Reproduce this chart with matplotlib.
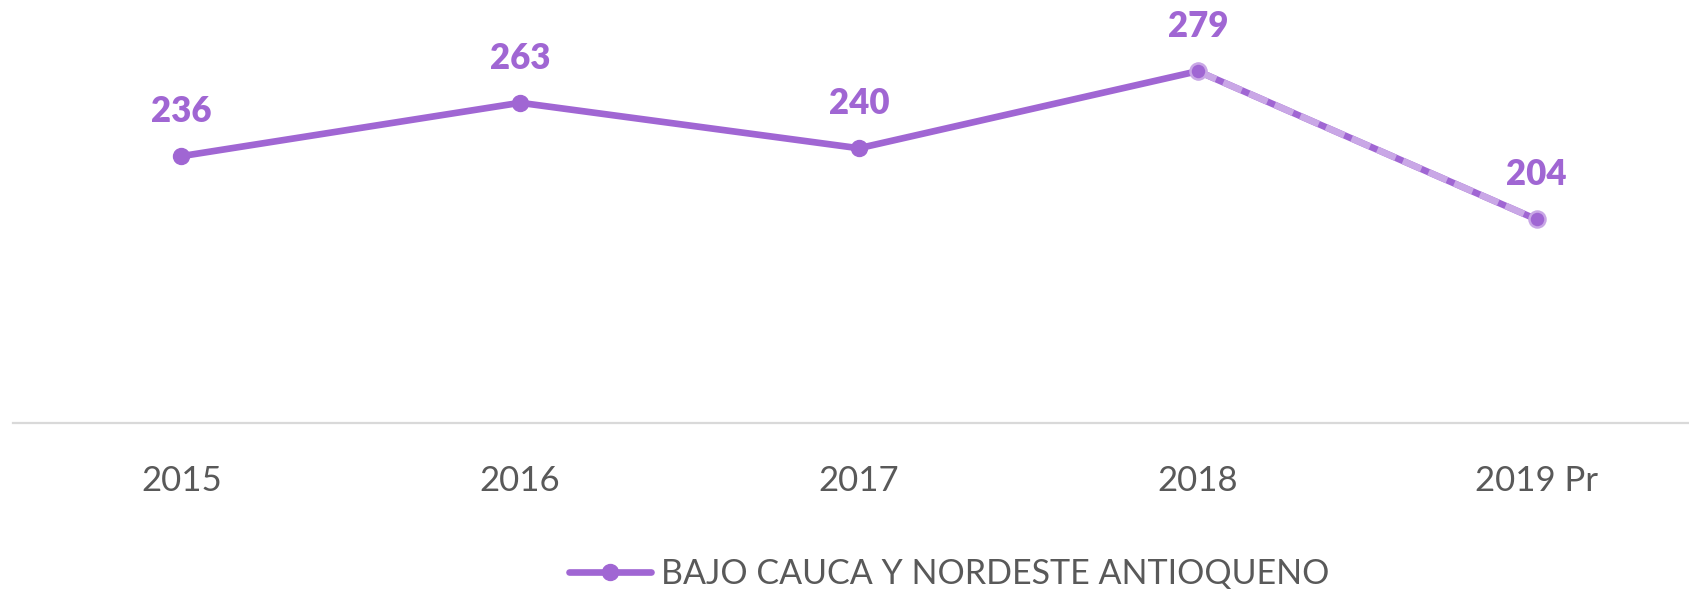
import matplotlib.pyplot as plt

# Data
years = ['2015', '2016', '2017', '2018', '2019 Pr']
values = [236, 263, 240, 279, 204]
series_name = 'BAJO CAUCA Y NORDESTE ANTIOQUENO'

purple = '#A066D3'
light_purple = '#C9A7E6'
text_grey = '#595959'

plt.rcParams['font.family'] = ['Lato', 'DejaVu Sans']

fig = plt.figure(figsize=(16.89, 5.93), dpi=100)
ax = fig.add_axes([13 / 1689, 1 - 423 / 593, 1 - 13 / 1689, 423 / 593])

x = list(range(len(years)))

# solid part (observed years)
ax.plot(x[:4], values[:4], color=purple, lw=4.8, marker='o', ms=11.5,
        solid_capstyle='round', zorder=3, label=series_name)
# projected segment: dark base with light dashes on top
ax.plot(x[3:], values[3:], color=purple, lw=4.8, zorder=2)
ax.plot(x[3:], values[3:], color=light_purple, lw=4.8, ls=(0, (3, 1.2)), zorder=3)
ax.plot(x[3:], values[3:], ls='none', marker='o', ms=11.5, color=purple,
        mec=light_purple, mew=1.8, zorder=4)

for xi, v in zip(x, values):
    ax.annotate(str(v), (xi, v), xytext=(0, 32), textcoords='offset points',
                ha='center', va='center', fontsize=25, fontweight='heavy',
                color=purple)

ax.set_xlim(-0.497, 4.45)
ax.set_ylim(101, 315)

for side in ['top', 'right', 'left']:
    ax.spines[side].set_visible(False)
ax.spines['bottom'].set_color('#D9D9D9')
ax.spines['bottom'].set_linewidth(1.6)
ax.set_yticks([])
ax.set_xticks(x)
ax.set_xticklabels(years, fontsize=25, color=text_grey)
ax.tick_params(axis='x', length=0, pad=30)

leg = fig.legend(handles=[ax.lines[0]], labels=[series_name],
                 loc='center', bbox_to_anchor=(0.562, 1 - 574 / 593),
                 frameon=False, fontsize=24.5, handlelength=2.4,
                 handletextpad=0.3)
for t in leg.get_texts():
    t.set_color(text_grey)

fig.savefig('out.png', dpi=100)
